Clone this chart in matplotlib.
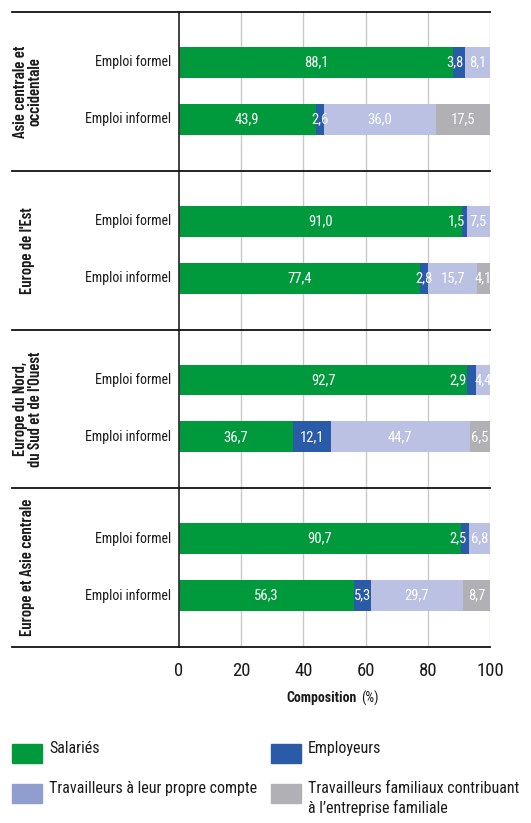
import numpy as np
import matplotlib
matplotlib.use("Agg")
import matplotlib.pyplot as plt
from matplotlib.patches import Rectangle

plt.rcParams['font.family'] = ['Roboto Condensed', 'Barlow Semi Condensed', 'DejaVu Sans']

# données
regions = ["Asie centrale et\noccidentale", "Europe de l'Est",
           "Europe du Nord,\ndu Sud et de l'Ouest", "Europe et Asie centrale"]
emplois = ["Emploi formel", "Emploi informel"]
categories = ["Salariés", "Employeurs", "Travailleurs à leur propre compte",
              "Travailleurs familiaux contribuant\nà l’entreprise familiale"]

salaries = [[88.1, 43.9], [91.0, 77.4], [92.7, 36.7], [90.7, 56.3]]
employeurs = [[3.8, 2.6], [1.5, 2.8], [2.9, 12.1], [2.5, 5.3]]
propre_compte = [[8.1, 36.0], [7.5, 15.7], [4.4, 44.7], [6.8, 29.7]]
familiaux = [[0.0, 17.5], [0.0, 4.1], [0.0, 6.5], [0.0, 8.7]]
xticks = [0, 20, 40, 60, 80, 100]

bar_colors = ["#009a3d", "#2a5ba8", "#bac1e3", "#b1b1b5"]
legend_colors = ["#009a3d", "#2a5ba8", "#8f9dcf", "#b1b1b5"]

W, H = 531, 823
fig = plt.figure(figsize=(W / 100, H / 100), dpi=100)
ax = fig.add_axes([179 / W, 1 - 647 / H, (490 - 179) / W, (647 - 12) / H])

series = [salaries, employeurs, propre_compte, familiaux]
bar_off = [0.318, 0.676]
bar_h = 0.195

for g in range(len(regions)):
    for k in range(len(emplois)):
        y = g + bar_off[k]
        left = 0.0
        for i, (s, col) in enumerate(zip(series, bar_colors)):
            v = s[g][k]
            if v > 0:
                ax.barh(y, v, left=left, height=bar_h, color=col, zorder=2)
                lab = "{:.1f}".format(v).replace(".", ",")
                if i == 1 and k == 0:
                    # petit segment : étiquette calée à droite, sans chevaucher la suivante
                    ax.text(min(left + v, 93) - 0.4, y, lab, ha="right", va="center",
                            color="white", fontsize=10.5, zorder=3)
                else:
                    ax.text(left + v / 2, y, lab, ha="center", va="center",
                            color="white", fontsize=10.5, zorder=3)
            left += v
        ax.text(-2.6, y, emplois[k], ha="right", va="center", fontsize=10, color="#1a1a1a")
    ax.text(-0.487, g + 0.5, regions[g], rotation=90, ha="center", va="center",
            fontsize=12, fontweight=600, family=["Barlow Condensed", "DejaVu Sans"],
            transform=ax.get_yaxis_transform(), linespacing=1.0, color="#1a1a1a")

# séparateurs des groupes
for g in range(len(regions) + 1):
    ax.plot([-0.537, 1.0], [g, g], color="#111111", lw=1.3,
            transform=ax.get_yaxis_transform(), clip_on=False, zorder=4)

ax.set_xlim(0, 100)
ax.set_ylim(len(regions), 0)
for x in xticks[1:]:
    ax.axvline(x, color="#c8c8c8", lw=1.0, zorder=1)
for sp in ["top", "right", "bottom"]:
    ax.spines[sp].set_visible(False)
ax.spines["left"].set_color("#333333")
ax.spines["left"].set_linewidth(1.3)
ax.set_yticks([])
ax.set_xticks(xticks)
ax.tick_params(axis="x", length=0, pad=11, labelsize=13.5, colors="#1a1a1a")

fig.text(357 / W, 1 - 698 / H, "Composition", ha="right", va="center",
         fontsize=10, fontweight="bold", color="#1a1a1a")
fig.text(361 / W, 1 - 698 / H, "(%)", ha="left", va="center",
         fontsize=10, color="#1a1a1a")

# légende
leg_pos = [(12, 744), (271, 744), (12, 784), (271, 784)]
for (px, py), lab, col in zip(leg_pos, categories, legend_colors):
    fig.patches.append(Rectangle((px / W, 1 - (py + 19) / H), 30 / W, 19 / H,
                                 transform=fig.transFigure, color=col))
    fig.text((px + 37) / W, 1 - (py - 3) / H, lab, ha="left", va="top",
             fontsize=11.5, linespacing=1.3, color="#1a1a1a")

fig.savefig("out.png", dpi=100)
